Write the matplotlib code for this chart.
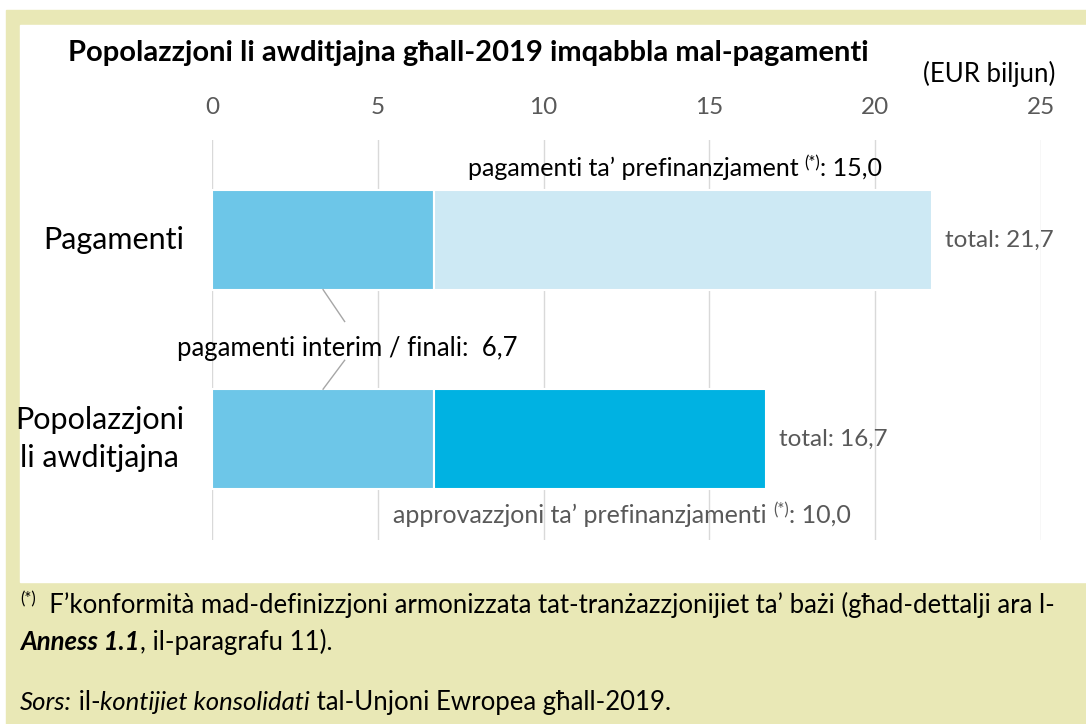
import matplotlib.pyplot as plt
from matplotlib.patches import Rectangle

plt.rcParams['font.family'] = ['Lato', 'DejaVu Sans']

# data (EUR biljun)
categories = ['Popolazzjoni\nli awditjajna', 'Pagamenti']
interim = [6.7, 6.7]
prefin = [10.0, 15.0]
totals = [16.7, 21.7]
xticks = [0, 5, 10, 15, 20, 25]

W, H = 1086, 724
fig = plt.figure(figsize=(W / 100, H / 100), dpi=100)

def fx(px):
    return px / W

def fy(py):
    return 1 - py / H

# background panels
fig.patches.append(Rectangle((fx(6), 0), 1, fy(10), transform=fig.transFigure,
                             color='#e9e8b6', zorder=-2))
fig.patches.append(Rectangle((fx(20), fy(582)), 1, fy(25) - fy(582),
                             transform=fig.transFigure, color='white', zorder=-1))

ax = fig.add_axes([fx(212), fy(540), fx(1041) - fx(212), fy(140) - fy(540)])
ax.patch.set_alpha(0)

y = [0, 1]
ax.barh(y, interim, height=0.5, color='#6dc6e8', edgecolor='white', linewidth=1.5, zorder=3)
ax.barh(y[1], prefin[1], left=interim[1], height=0.5, color='#cde9f4',
        edgecolor='white', linewidth=1.5, zorder=3)
ax.barh(y[0], prefin[0], left=interim[0], height=0.5, color='#00b2e2',
        edgecolor='white', linewidth=1.5, zorder=3)

ax.set_xlim(0, 25)
ax.set_ylim(-0.508, 1.502)
ax.set_xticks(xticks)
ax.xaxis.tick_top()
ax.tick_params(axis='x', length=0, labelsize=17.5, labelcolor='#595959', pad=16)
ax.set_yticks([])
ax.grid(axis='x', color='#d9d9d9', linewidth=1, zorder=0)
for s in ax.spines.values():
    s.set_visible(False)

# category labels
for yi, cat in zip(y, categories):
    ax.text(-0.85, yi, cat, ha='right', va='center', fontsize=22,
            multialignment='center', linespacing=1.45, color='black')

# totals
for yi, t in zip(y, totals):
    ax.text(t + 0.4, yi, 'total: ' + f'{t:.1f}'.replace('.', ','), ha='left',
            va='center', fontsize=17.5, color='#595959')

renderer = fig.canvas.get_renderer()

def runs(x0, ypx, parts, ha='left'):
    # parts: (string, size, color, weight, style, raise_px)
    objs = []
    for s, size, col, wt, st, dy in parts:
        t = fig.text(0, 0, s, fontsize=size, color=col, fontweight=wt,
                     fontstyle=st, va='baseline')
        objs.append((t, dy))
    widths = [t.get_window_extent(renderer).width for t, _ in objs]
    total = sum(widths)
    x = x0 - total / 2 if ha == 'center' else x0
    for (t, dy), w in zip(objs, widths):
        t.set_position((fx(x), fy(ypx - dy)))
        x += w

# segment labels
runs(675, 176, [('pagamenti ta’ prefinanzjament ', 18, 'black', 'normal', 'normal', 0),
                ('(*)', 12, 'black', 'normal', 'normal', 8),
                (': 15,0', 18, 'black', 'normal', 'normal', 0)], ha='center')
runs(622, 523, [('approvazzjoni ta’ prefinanzjamenti ', 18, '#595959', 'normal', 'normal', 0),
                ('(*)', 12, '#595959', 'normal', 'normal', 8),
                (': 10,0', 18, '#595959', 'normal', 'normal', 0)], ha='center')
runs(347, 356, [('pagamenti interim / finali:  6,7', 18.5, 'black', 'normal', 'normal', 0)],
     ha='center')

# leader lines from the interim label to both bars
ax.plot([3.35, 4.0], [0.75, 0.59], color='#a6a6a6', linewidth=1, zorder=4)
ax.plot([4.0, 3.35], [0.395, 0.25], color='#a6a6a6', linewidth=1, zorder=4)

# title and unit
fig.text(fx(68), fy(53), 'Popolazzjoni li awditjajna għall-2019 imqabbla mal-pagamenti',
         fontsize=21, fontweight='bold', va='center', ha='left')
fig.text(fx(1055), fy(74), '(EUR biljun)', fontsize=18.5, va='center', ha='right')

# footnotes
runs(20, 613, [('(*)', 12, 'black', 'normal', 'normal', 9),
               ('  F’konformità mad-definizzjoni armonizzata tat-tranżazzjonijiet ta’ bażi '
                '(għad-dettalji ara l-', 18.5, 'black', 'normal', 'normal', 0)])
runs(20, 650, [('Anness 1.1', 18.5, 'black', 'bold', 'italic', 0),
               (', il-paragrafu 11).', 18.5, 'black', 'normal', 'normal', 0)])
runs(20, 710, [('Sors:', 18.5, 'black', 'normal', 'italic', 0),
               (' il-', 18.5, 'black', 'normal', 'normal', 0),
               ('kontijiet konsolidati', 18.5, 'black', 'normal', 'italic', 0),
               (' tal-Unjoni Ewropea għall-2019.', 18.5, 'black', 'normal', 'normal', 0)])

fig.savefig('out.png', dpi=100)
